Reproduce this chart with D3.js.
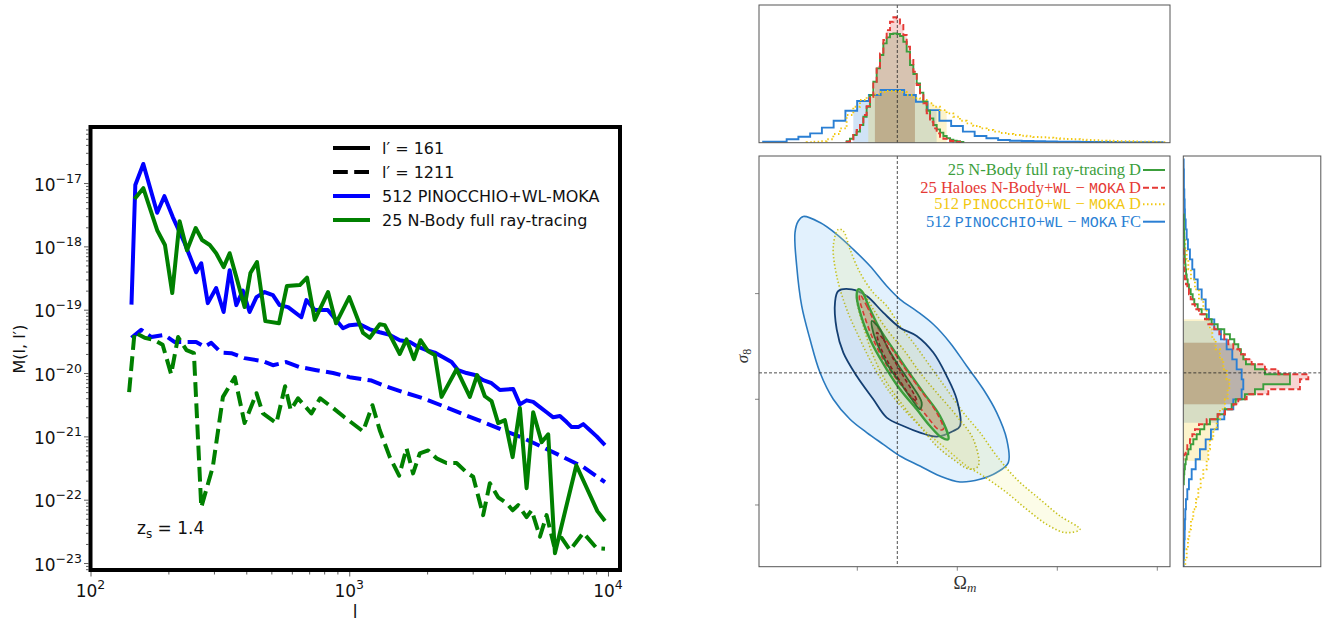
<!DOCTYPE html>
<html><head><meta charset="utf-8">
<script src="https://cdn.jsdelivr.net/npm/d3@7"></script>
<style>body{margin:0;background:#fff} svg{display:block}</style>
</head><body>
<svg id="c" width="1328" height="621"></svg>
<script>
// ---------------- LEFT PANEL DATA ----------------
const lBlueSolid = [144,149,160,181,193,208,231,256,268,284,306,327,345,366,388,412,438,471,507,538,580,653,683,736,826,946,1004,1098,1201,1312,1435,1568,1714,1841,1989,2142,2307,2486,2636,2840,3059,3293,3549,3821,4303,4567,4847,5140,5458,5793,6143,6521,6922,7238,7678,8028,8520,9043,9737];
const mBlueSolid = [1.2e-19,9.3e-18,2.0e-17,3.4e-18,6.2e-18,2.9e-18,1.13e-18,3.9e-19,5.4e-19,1.27e-19,2.2e-19,9.2e-20,4.2e-19,1.18e-19,2.0e-19,9.2e-20,1.58e-19,1.9e-19,1.7e-19,1.18e-19,1.1e-19,7.6e-20,1.42e-19,9.9e-20,9.9e-20,5.1e-20,5.7e-20,5.9e-20,4.9e-20,4.4e-20,4.0e-20,3.3e-20,3.1e-20,2.6e-20,2.3e-20,2.1e-20,1.78e-20,1.49e-20,1.11e-20,1.0e-20,9.3e-21,7.7e-21,6.9e-21,5.4e-21,5.6e-21,3.2e-21,3.7e-21,3.5e-21,2.9e-21,2.4e-21,2.0e-21,2.1e-21,1.68e-21,1.4e-21,1.4e-21,1.56e-21,1.25e-21,1.0e-21,7.3e-22];

const lGreenSolid = [148,160,169,181,194,207,221,236,255,270,289,306,327,345,366,394,415,440,474,535,574,644,687,736,828,889,1000,1131,1201,1312,1372,1568,1665,1778,1886,2018,2142,2274,2599,2925,3122,3343,3549,3763,3996,4280,4567,4847,5140,5541,5876,6237,7545,9100,9737];
const mGreenSolid = [5.6e-18,8.3e-18,4.2e-18,1.8e-18,1.05e-18,1.83e-19,2.5e-18,8.7e-19,1.95e-18,1.26e-18,1.05e-18,7.8e-19,4.7e-19,7.8e-19,3.3e-19,1.1e-19,3.8e-19,5.65e-19,6.6e-20,6.1e-20,2.36e-19,2.45e-19,3.2e-19,6.9e-20,1.9e-19,6.1e-20,1.58e-19,4.3e-20,3.6e-20,5.9e-20,5.7e-20,2.0e-20,3.4e-20,1.66e-20,3.3e-20,2.2e-20,1.92e-20,4.2e-21,1.15e-20,4.2e-21,9.3e-21,4.3e-21,3.6e-21,1.62e-21,1.8e-21,4.7e-22,2.8e-21,1.52e-22,2.4e-21,8.1e-22,1.08e-21,1.43e-23,3.5e-22,6.6e-23,4.6e-23];

const lBlueDash = [144,157,172,193,211,231,256,276,293,320,350,394,464,507,571,644,747,866,1004,1148,1220,1351,1615,1930,2307,2755,3293,3936,4704,5620,6716,8028,9737];
const mBlueDash = [3.6e-20,4.8e-20,3.7e-20,4.0e-20,3.1e-20,3.1e-20,3.1e-20,2.6e-20,3.0e-20,2.1e-20,2.06e-20,1.72e-20,1.54e-20,1.33e-20,1.49e-20,1.24e-20,1.11e-20,1.0e-20,8.6e-21,7.9e-21,7.6e-21,6.4e-21,5.0e-21,4.0e-21,3.0e-21,2.24e-21,1.68e-21,1.25e-21,9.4e-22,6.7e-22,4.7e-22,3.3e-22,1.89e-22];

const lGreenDash = [141,148,162,177,190,205,218,235,251,268,297,325,361,394,438,464,523,565,594,634,714,772,866,959,1131,1230,1312,1435,1559,1665,1765,1874,2018,2175,2377,2599,2840,3013,3293,3495,3763,4057,4280,4498,4847,5068,5458,5793,6181,6621,7129,8028,9043,9737];
const mGreenDash = [5.0e-21,4.4e-20,3.6e-20,3.3e-20,2.8e-20,9.6e-21,3.7e-20,2.3e-20,2.06e-20,7.6e-23,3.3e-22,4.2e-21,8.6e-21,1.62e-21,4.8e-21,2.3e-21,1.62e-21,6.2e-21,2.6e-21,4.0e-21,2.3e-21,4.0e-21,2.8e-21,2.0e-21,1.2e-21,3.1e-21,1.25e-21,4.7e-22,2.4e-22,6.5e-22,2.6e-22,5.4e-22,6.0e-22,4.5e-22,3.8e-22,3.8e-22,2.7e-22,2.3e-22,5.7e-23,1.82e-22,1.09e-22,8.8e-23,6.8e-23,8.2e-23,5.3e-23,6.8e-23,2.6e-23,5.7e-23,1.9e-23,2.5e-23,1.6e-23,3.0e-23,1.71e-23,1.68e-23];

const yTickExps = [-23,-22,-21,-20,-19,-18,-17];
const xTickExps = [2,3,4];
const leftLegend = ["l\u2032 = 161","l\u2032 = 1211","512 PINOCCHIO+WL-MOKA","25 N-Body full ray-tracing"];

// ---------------- RIGHT PANEL DATA ----------------
const omegaTicks = [0.2,0.4,0.6,0.8];
const sigmaTicks = [0.7,0.8,0.9];
const omegaFid = 0.28, sigmaFid = 0.825;

// contours [Omega_m, sigma_8]
const cBlue2 = [[0.092,0.973],[0.1254,0.9672],[0.1588,0.9561],[0.192,0.9419],[0.2254,0.9261],[0.2588,0.9072],[0.2854,0.8946],[0.3188,0.8835],[0.352,0.871],[0.3854,0.8536],[0.4188,0.8315],[0.452,0.8095],[0.4788,0.7874],[0.4988,0.7622],[0.502,0.7401],[0.4788,0.7307],[0.4454,0.7243],[0.4054,0.7218],[0.3654,0.7274],[0.3254,0.7369],[0.2854,0.7464],[0.252,0.7574],[0.2188,0.7685],[0.1854,0.7811],[0.152,0.8],[0.1254,0.8253],[0.1054,0.8568],[0.0888,0.8883],[0.0788,0.9261],[0.0754,0.9577],[0.082,0.9687]];
const cBlue1 = [[0.162,0.9025],[0.1888,0.9041],[0.2188,0.8977],[0.252,0.882],[0.2854,0.8678],[0.3188,0.8599],[0.352,0.8442],[0.3788,0.822],[0.3988,0.8],[0.4054,0.7747],[0.392,0.77],[0.3588,0.7647],[0.3254,0.7685],[0.292,0.7747],[0.2588,0.7827],[0.232,0.8],[0.1988,0.822],[0.172,0.8442],[0.1588,0.8662],[0.1554,0.8915]];
const cYellow2 = [[0.162,0.9608],[0.172,0.9592],[0.1854,0.9419],[0.2054,0.9199],[0.232,0.9009],[0.2588,0.8883],[0.2854,0.8693],[0.312,0.8536],[0.3454,0.8315],[0.3788,0.8095],[0.412,0.7874],[0.4454,0.7685],[0.4788,0.7464],[0.5188,0.7243],[0.5654,0.7054],[0.6054,0.6896],[0.6454,0.677],[0.6154,0.6739],[0.5788,0.6817],[0.5388,0.6959],[0.4988,0.7117],[0.452,0.7274],[0.4188,0.7369],[0.3788,0.7527],[0.3388,0.7685],[0.2988,0.7874],[0.2654,0.8063],[0.232,0.8315],[0.2054,0.8568],[0.1788,0.8851],[0.1588,0.9167],[0.152,0.945]];
const cYellow1 = [[0.202,0.9041],[0.212,0.9009],[0.232,0.8851],[0.2588,0.8662],[0.292,0.8473],[0.3254,0.8253],[0.3588,0.8063],[0.3988,0.7842],[0.432,0.7622],[0.442,0.7369],[0.4254,0.7338],[0.392,0.7432],[0.3588,0.7558],[0.3254,0.7747],[0.292,0.7937],[0.2588,0.8158],[0.232,0.841],[0.212,0.8693],[0.1988,0.8946]];
const cGreen2 = [[0.202,0.9041],[0.2088,0.9025],[0.2254,0.8851],[0.2454,0.8662],[0.272,0.8473],[0.2988,0.8284],[0.332,0.8063],[0.3654,0.7842],[0.382,0.7622],[0.3688,0.7638],[0.3454,0.7747],[0.3188,0.7905],[0.2854,0.8095],[0.2588,0.8284],[0.232,0.8504],[0.212,0.8726],[0.1988,0.8977]];
const cRed2 = [[0.2054,0.8993],[0.2188,0.8883],[0.2388,0.8693],[0.2654,0.8504],[0.292,0.8315],[0.3254,0.8095],[0.3588,0.7874],[0.372,0.7716],[0.362,0.7716],[0.3388,0.7842],[0.312,0.8],[0.2788,0.8189],[0.252,0.8378],[0.2288,0.8599],[0.212,0.882],[0.204,0.8962]];
const cGreen1 = [[0.2288,0.8741],[0.2454,0.8662],[0.2588,0.8504],[0.2788,0.8347],[0.3054,0.8158],[0.3288,0.7969],[0.3254,0.7905],[0.3088,0.8],[0.2854,0.8158],[0.262,0.8315],[0.242,0.8504],[0.232,0.8631]];
const cRed1 = [[0.2388,0.8631],[0.252,0.8568],[0.2688,0.841],[0.292,0.822],[0.3154,0.8031],[0.3188,0.7984],[0.3088,0.8016],[0.2854,0.8173],[0.262,0.8347],[0.2454,0.8504]];

// marginal histograms: start edge, bin width, heights
const omRedStart = 0.1787, omRedW = 0.00667;
const omRedH = [0.005,0.016,0.061,0.101,0.141,0.221,0.292,0.367,0.486,0.606,0.712,0.819,0.898,0.965,1.0,0.991,0.938,0.859,0.766,0.659,0.566,0.46,0.393,0.314,0.234,0.167,0.114,0.074,0.048,0.032,0.021,0.013,0.008,0.005];
const omGreenStart = 0.1787, omGreenW = 0.00667;
const omGreenH = [0.011,0.032,0.061,0.088,0.141,0.207,0.287,0.38,0.486,0.593,0.699,0.792,0.84,0.867,0.872,0.867,0.851,0.805,0.726,0.619,0.548,0.473,0.399,0.327,0.255,0.194,0.141,0.106,0.08,0.053,0.035,0.024,0.016,0.011,0.005];
const omBlueStart = 0.0117, omBlueW = 0.0235;
const omBlueH = [0.008,0.008,0.027,0.048,0.074,0.12,0.175,0.255,0.332,0.38,0.42,0.42,0.38,0.327,0.26,0.175,0.133,0.088,0.053,0.035,0.021,0.016,0.013,0.011,0.009,0.008,0.007,0.006,0.005,0.005,0.004,0.004,0.003,0.003];
const omYellowStart = 0.0987, omYellowW = 0.01333;
const omYellowH = [0.003,0.008,0.011,0.027,0.069,0.114,0.221,0.287,0.34,0.367,0.385,0.404,0.412,0.412,0.404,0.38,0.354,0.34,0.314,0.287,0.26,0.234,0.207,0.175,0.154,0.133,0.114,0.101,0.088,0.077,0.069,0.061,0.056,0.051,0.045,0.043,0.04,0.035,0.032,0.029,0.027,0.024,0.021,0.019,0.016,0.015,0.013,0.012,0.011,0.009,0.008,0.007,0.005,0.004];

const s8RedStart = 0.9419, s8RedW = -0.00473;
const s8RedH = [0.003,0.004,0.005,0.007,0.009,0.013,0.021,0.032,0.045,0.059,0.072,0.093,0.125,0.173,0.2,0.248,0.288,0.328,0.36,0.4,0.453,0.493,0.547,0.653,0.76,1.0,0.933,0.933,0.68,0.507,0.44,0.4,0.333,0.275,0.187,0.125,0.093,0.072,0.053,0.032,0.019,0.008];
const s8GreenStart = 0.975, s8GreenW = -0.00473;
const s8GreenH = [0.004,0.005,0.005,0.006,0.007,0.008,0.009,0.011,0.012,0.015,0.018,0.022,0.027,0.035,0.045,0.059,0.075,0.088,0.115,0.147,0.187,0.227,0.275,0.328,0.373,0.408,0.44,0.461,0.48,0.501,0.573,0.653,0.853,0.853,0.64,0.573,0.493,0.419,0.387,0.333,0.275,0.213,0.168,0.133,0.107,0.08,0.059,0.04,0.027,0.019,0.013,0.008,0.005,0.004];
const s8BlueStart = 1.027, s8BlueW = -0.00946;
const s8BlueH = [0.003,0.005,0.005,0.008,0.011,0.013,0.019,0.027,0.037,0.053,0.072,0.088,0.115,0.147,0.179,0.205,0.248,0.301,0.347,0.392,0.427,0.467,0.48,0.467,0.4,0.328,0.275,0.221,0.179,0.133,0.099,0.067,0.045,0.032,0.021,0.016,0.013,0.011,0.008,0.005,0.003];
const s8YellowStart = 0.9608, s8YellowW = -0.00946;
const s8YellowH = [0.008,0.016,0.027,0.04,0.061,0.093,0.125,0.16,0.187,0.213,0.232,0.259,0.293,0.32,0.347,0.368,0.355,0.333,0.293,0.267,0.24,0.213,0.2,0.187,0.16,0.139,0.12,0.101,0.08,0.061,0.048,0.037,0.027,0.016];

// 1-sigma shaded intervals
const omBand = {blue:[0.192,0.3587], yellow:[0.222,0.3787], green:[0.2353,0.3153], red:[0.2353,0.3153]};
const s8Band = {blue:[0.7779,0.8741], yellow:[0.7417,0.8757], green:[0.7953,0.8536], red:[0.7953,0.8536]};

const rightLegend = [
  [["25 N-Body full ray-tracing D","s"]],
  [["25 Haloes N-Body+","s"],["WL","m"],[" \u2212 ","s"],["MOKA","m"],[" D","s"]],
  [["512 ","s"],["PINOCCHIO","m"],["+","s"],["WL","m"],[" \u2212 ","s"],["MOKA","m"],[" D","s"]],
  [["512 ","s"],["PINOCCHIO","m"],["+","s"],["WL","m"],[" \u2212 ","s"],["MOKA","m"],[" FC","s"]]
];

// ================= DRAW =================
const svg = d3.select("#c");
const SANS = "DejaVu Sans";
const defs = svg.append("defs");

// ---- left panel ----
const LX0 = 90.5, LX1 = 620, LY0 = 127, LY1 = 570;
const xL = d3.scaleLog().domain([100, 11130]).range([LX0, LX1]);
const yL = d3.scaleLog().domain([7.76e-24, 7.67e-17]).range([LY1, LY0]);
defs.append("clipPath").attr("id","clipL").append("rect")
  .attr("x",LX0).attr("y",LY0).attr("width",LX1-LX0).attr("height",LY1-LY0);

const lineL = d3.line().x(d=>xL(d[0])).y(d=>yL(d[1]));
const seriesL = [
  {l:lBlueDash, m:mBlueDash, c:"#0000ff", dash:"14.8,6.4"},
  {l:lGreenDash, m:mGreenDash, c:"#008000", dash:"14.8,6.4"},
  {l:lBlueSolid, m:mBlueSolid, c:"#0000ff", dash:null},
  {l:lGreenSolid, m:mGreenSolid, c:"#008000", dash:null}
];
const gL = svg.append("g").attr("clip-path","url(#clipL)");
seriesL.forEach(s=>{
  gL.append("path").datum(s.l.map((v,i)=>[v,s.m[i]]))
    .attr("d",lineL).attr("fill","none").attr("stroke",s.c).attr("stroke-width",4)
    .attr("stroke-linejoin","round").attr("stroke-dasharray",s.dash);
});

// axes ticks
const yMajor = yTickExps.map(e=>Math.pow(10,e));
const yMinor = [];
for (let e=-24;e<=-17;e++) for (let k=2;k<=9;k++){const v=k*Math.pow(10,e); if(v>yL.domain()[0]&&v<yL.domain()[1]) yMinor.push(v);}
const xMajor = xTickExps.map(e=>Math.pow(10,e));
const xMinor = [];
for (let e=2;e<=4;e++) for (let k=2;k<=9;k++){const v=k*Math.pow(10,e); if(v<xL.domain()[1]) xMinor.push(v);}

function styleAxis(g){ g.select(".domain").remove(); g.selectAll("line").attr("stroke","#333").attr("stroke-width",0.8); g.selectAll("text").remove(); }
svg.append("g").attr("transform",`translate(${LX0-2},0)`).call(d3.axisLeft(yL).tickValues(yMajor).tickSize(4.5)).call(styleAxis);
svg.append("g").attr("transform",`translate(${LX0-2},0)`).call(d3.axisLeft(yL).tickValues(yMinor).tickSize(2.5)).call(styleAxis);
svg.append("g").attr("transform",`translate(0,${LY1+2})`).call(d3.axisBottom(xL).tickValues(xMajor).tickSize(4.5)).call(styleAxis);
svg.append("g").attr("transform",`translate(0,${LY1+2})`).call(d3.axisBottom(xL).tickValues(xMinor).tickSize(2.5)).call(styleAxis);

yMajor.forEach((v,i)=>{
  const t = svg.append("text").attr("x",82).attr("y",yL(v)+7.5).attr("text-anchor","end")
    .attr("font-family",SANS).attr("font-size",17).attr("fill","#111");
  t.append("tspan").text("10");
  t.append("tspan").attr("dy",-8).attr("font-size",12.5).text("\u2212"+Math.abs(yTickExps[i]));
});
xMajor.forEach((v,i)=>{
  const t = svg.append("text").attr("x",xL(v)).attr("y",597).attr("text-anchor","middle")
    .attr("font-family",SANS).attr("font-size",17).attr("fill","#111");
  t.append("tspan").text("10");
  t.append("tspan").attr("dy",-8).attr("font-size",12.5).text(String(xTickExps[i]));
});
svg.append("text").attr("x",355).attr("y",618).attr("text-anchor","middle")
  .attr("font-family",SANS).attr("font-size",17).attr("fill","#111").text("l");
svg.append("text").attr("transform","translate(25,349) rotate(-90)").attr("text-anchor","middle")
  .attr("font-family",SANS).attr("font-size",16).attr("fill","#111").text("M(l, l\u2032)");
const zs = svg.append("text").attr("x",137).attr("y",534).attr("font-family",SANS).attr("font-size",17).attr("fill","#111");
zs.append("tspan").text("z");
zs.append("tspan").attr("dy",4).attr("font-size",12).text("s");
zs.append("tspan").attr("dy",-4).text(" = 1.4");

// left legend
const legRows = [148,172,196,220];
const legStyle = [{c:"#000",d:null},{c:"#000",d:"14.8,6.4"},{c:"#0000ff",d:null},{c:"#008000",d:null}];
leftLegend.forEach((txt,i)=>{
  svg.append("line").attr("x1",333).attr("x2",370).attr("y1",legRows[i]).attr("y2",legRows[i])
    .attr("stroke",legStyle[i].c).attr("stroke-width",4).attr("stroke-dasharray",legStyle[i].d);
  svg.append("text").attr("x",382).attr("y",legRows[i]+6).attr("font-family",SANS).attr("font-size",16)
    .attr("fill","#111").text(txt);
});
svg.append("rect").attr("x",LX0).attr("y",LY0).attr("width",LX1-LX0).attr("height",LY1-LY0)
  .attr("fill","none").attr("stroke","#000").attr("stroke-width",4);

// ---- right: corner plot ----
const MX0=759, MX1=1170, MY0=156, MY1=566.7;
const TY0=5, TY1=142.7;
const RX0=1183.3, RX1=1320.8;
const xO = d3.scaleLinear().domain([0.0034,0.8254]).range([MX0,MX1]);
const yS = d3.scaleLinear().domain([0.6416,1.0302]).range([MY1,MY0]);
const yT = d3.scaleLinear().domain([0,1.098]).range([TY1,TY0]);
const xR = d3.scaleLinear().domain([0,1.1]).range([RX0,RX1]);

const COL = {blue:"#2a7fd4", yellow:"#f2c811", green:"#3c9e3c", red:"#e53935"};
const DASH = {blue:null, yellow:"1.5,2.5", green:null, red:"6,3"};

// contours
const cl = d3.line().x(d=>xO(d[0])).y(d=>yS(d[1])).curve(d3.curveCatmullRomClosed.alpha(0.5));
const contours = [
  {d:cBlue2, fill:"#cfe8fb", fo:0.6, st:"#2a7abf", sw:1.6, dash:null},
  {d:cYellow2, fill:"#f2f28a", fo:0.2, st:"#c6c21e", sw:1.6, dash:"1.4,2.2"},
  {d:cBlue1, fill:"#7088b8", fo:0.13, st:"#143f72", sw:1.8, dash:null},
  {d:cYellow1, fill:"#d8d470", fo:0.18, st:"#b9b520", sw:1.6, dash:"1.4,2.2"},
  {d:cGreen2, fill:"#9ab880", fo:0.45, st:"#3c9e3c", sw:2.4, dash:null},
  {d:cRed2, fill:"#c89078", fo:0.4, st:"#d43a32", sw:1.6, dash:"5,3"},
  {d:cGreen1, fill:"#7a8a55", fo:0.45, st:"#2f6f2f", sw:1.8, dash:null},
  {d:cRed1, fill:"#8a5a48", fo:0.35, st:"#8a2020", sw:1.6, dash:"4,2.5"}
];
defs.append("clipPath").attr("id","clipM").append("rect").attr("x",MX0).attr("y",MY0).attr("width",MX1-MX0).attr("height",MY1-MY0);
const gM = svg.append("g").attr("clip-path","url(#clipM)");
contours.forEach(c=>{
  gM.append("path").datum(c.d).attr("d",cl).attr("fill",c.fill).attr("fill-opacity",c.fo)
    .attr("stroke",c.st).attr("stroke-width",c.sw).attr("stroke-dasharray",c.dash).attr("stroke-linejoin","round");
});
gM.append("line").attr("x1",xO(omegaFid)).attr("x2",xO(omegaFid)).attr("y1",MY0).attr("y2",MY1)
  .attr("stroke","#222").attr("stroke-width",0.8).attr("stroke-dasharray","3,2");
gM.append("line").attr("x1",MX0).attr("x2",MX1).attr("y1",yS(sigmaFid)).attr("y2",yS(sigmaFid))
  .attr("stroke","#222").attr("stroke-width",0.8).attr("stroke-dasharray","3,2");
svg.append("rect").attr("x",MX0).attr("y",MY0).attr("width",MX1-MX0).attr("height",MY1-MY0)
  .attr("fill","none").attr("stroke","#555").attr("stroke-width",1);
omegaTicks.forEach(v=>svg.append("line").attr("x1",xO(v)).attr("x2",xO(v)).attr("y1",MY1).attr("y2",MY1+4).attr("stroke","#666").attr("stroke-width",0.8));
sigmaTicks.forEach(v=>svg.append("line").attr("x1",MX0-4).attr("x2",MX0).attr("y1",yS(v)).attr("y2",yS(v)).attr("stroke","#666").attr("stroke-width",0.8));
const om = svg.append("text").attr("x",965).attr("y",589).attr("text-anchor","middle")
  .attr("font-family","Liberation Serif").attr("font-size",18).attr("fill","#333");
om.append("tspan").text("\u03A9");
om.append("tspan").attr("dy",3).attr("font-size",13).attr("font-style","italic").text("m");
const sg = svg.append("text").attr("transform","translate(748,356) rotate(-90)").attr("text-anchor","middle")
  .attr("font-family","Liberation Serif").attr("font-size",17).attr("fill","#333");
sg.append("tspan").attr("font-style","italic").text("\u03C3");
sg.append("tspan").attr("dy",3).attr("font-size",12).text("8");

// legend in main
const rRows = [170,187.7,204.3,221.7];
const rCols = [COL.green, COL.red, COL.yellow, COL.blue];
const rKeys = ["green","red","yellow","blue"];
rightLegend.forEach((parts,i)=>{
  const t = svg.append("text").attr("x",1141).attr("y",rRows[i]+5).attr("text-anchor","end")
    .attr("fill",rCols[i]).attr("font-size",16.5).attr("font-family","Liberation Serif");
  parts.forEach(p=>{
    const ts = t.append("tspan").text(p[0]);
    if (p[1]==="m") ts.attr("font-family","Liberation Mono").attr("font-size",15);
  });
  svg.append("line").attr("x1",1143).attr("x2",1165).attr("y1",rRows[i]).attr("y2",rRows[i])
    .attr("stroke",COL[rKeys[i]]).attr("stroke-width",2).attr("stroke-dasharray",DASH[rKeys[i]]);
});

// histograms
function stepPts(start,w,hs){
  const p=[[start,0]];
  hs.forEach((h,i)=>{p.push([start+i*w,h]);p.push([start+(i+1)*w,h]);});
  p.push([start+hs.length*w,0]);
  return p;
}
const topHists = {
  blue:stepPts(omBlueStart,omBlueW,omBlueH), yellow:stepPts(omYellowStart,omYellowW,omYellowH),
  green:stepPts(omGreenStart,omGreenW,omGreenH), red:stepPts(omRedStart,omRedW,omRedH)
};
const rightHists = {
  blue:stepPts(s8BlueStart,s8BlueW,s8BlueH), yellow:stepPts(s8YellowStart,s8YellowW,s8YellowH),
  green:stepPts(s8GreenStart,s8GreenW,s8GreenH), red:stepPts(s8RedStart,s8RedW,s8RedH)
};
const order = ["blue","yellow","green","red"];
const topLine = d3.line().x(d=>xO(d[0])).y(d=>yT(d[1]));
const rightLine = d3.line().x(d=>xR(d[1])).y(d=>yS(d[0]));
defs.append("clipPath").attr("id","clipT").append("rect").attr("x",MX0).attr("y",TY0).attr("width",MX1-MX0).attr("height",TY1-TY0);
defs.append("clipPath").attr("id","clipR").append("rect").attr("x",RX0).attr("y",MY0).attr("width",RX1-RX0).attr("height",MY1-MY0);
const gT = svg.append("g").attr("clip-path","url(#clipT)");
const gR = svg.append("g").attr("clip-path","url(#clipR)");
order.forEach(k=>{
  const b = omBand[k];
  defs.append("clipPath").attr("id","bt_"+k).append("rect").attr("x",xO(b[0])).attr("width",xO(b[1])-xO(b[0])).attr("y",TY0).attr("height",TY1-TY0);
  gT.append("g").attr("clip-path",`url(#bt_${k})`).append("path").datum(topHists[k]).attr("d",topLine)
    .attr("fill",COL[k]).attr("fill-opacity",0.22).attr("stroke","none");
  const s = s8Band[k];
  defs.append("clipPath").attr("id","br_"+k).append("rect").attr("y",yS(s[1])).attr("height",yS(s[0])-yS(s[1])).attr("x",RX0).attr("width",RX1-RX0);
  gR.append("g").attr("clip-path",`url(#br_${k})`).append("path").datum(rightHists[k]).attr("d",rightLine)
    .attr("fill",COL[k]).attr("fill-opacity",0.22).attr("stroke","none");
});
order.forEach(k=>{
  gT.append("path").datum(topHists[k]).attr("d",topLine).attr("fill","none").attr("stroke",COL[k])
    .attr("stroke-width",1.9).attr("stroke-dasharray",DASH[k]);
  gR.append("path").datum(rightHists[k]).attr("d",rightLine).attr("fill","none").attr("stroke",COL[k])
    .attr("stroke-width",1.9).attr("stroke-dasharray",DASH[k]);
});
gT.append("line").attr("x1",xO(omegaFid)).attr("x2",xO(omegaFid)).attr("y1",TY0).attr("y2",TY1)
  .attr("stroke","#222").attr("stroke-width",0.8).attr("stroke-dasharray","3,2");
gR.append("line").attr("x1",RX0).attr("x2",RX1).attr("y1",yS(sigmaFid)).attr("y2",yS(sigmaFid))
  .attr("stroke","#222").attr("stroke-width",0.8).attr("stroke-dasharray","3,2");
svg.append("rect").attr("x",MX0).attr("y",TY0).attr("width",MX1-MX0).attr("height",TY1-TY0)
  .attr("fill","none").attr("stroke","#555").attr("stroke-width",1);
svg.append("rect").attr("x",RX0).attr("y",MY0).attr("width",RX1-RX0).attr("height",MY1-MY0)
  .attr("fill","none").attr("stroke","#555").attr("stroke-width",1);
</script>
</body></html>
